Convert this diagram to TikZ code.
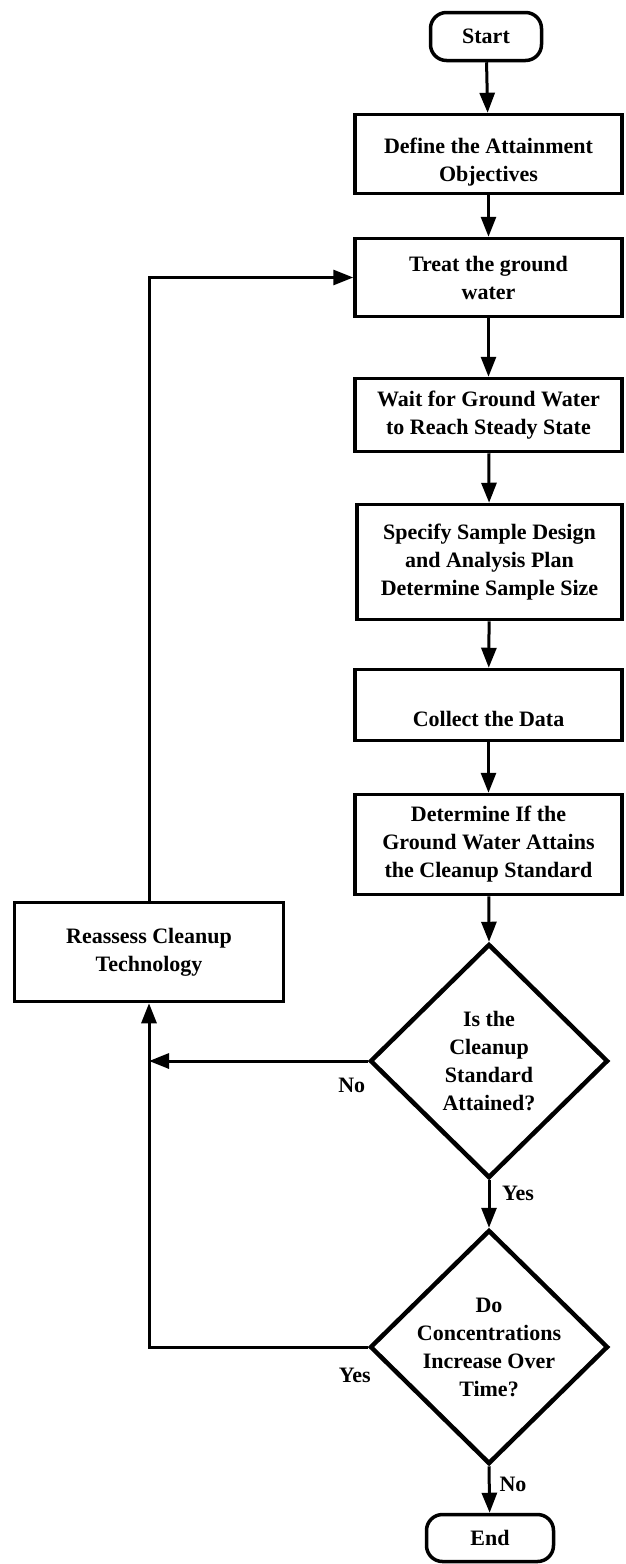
\documentclass[tikz,border=0pt]{standalone}
\usepackage{fontspec}
\setmainfont{Liberation Serif}
\usetikzlibrary{arrows.meta,shapes.geometric,calc}

\begin{document}
\begin{tikzpicture}[x=1pt,y=-1pt,
  every node/.style={font=\bfseries\fontsize{22}{28}\selectfont, align=center},
  box/.style={draw, line width=3.5pt, rectangle, inner sep=0pt},
  term/.style={draw, line width=3.5pt, rectangle, rounded corners=16pt, inner sep=0pt},
  decision/.style={draw, line width=4.5pt, diamond, inner sep=0pt,
                   minimum width=238pt, minimum height=234pt},
  txt/.style={inner sep=0pt},
  lbl/.style={inner sep=0pt},
  arr/.style={line width=3pt, -{Triangle[length=20pt,width=15pt]}},
  link/.style={line width=3pt}]

\useasboundingbox (0,0) rectangle (626,1564);

% main column
\node[term, minimum width=111pt, minimum height=48pt] (start) at (486,36.5) {Start};

\node[box, minimum width=267pt, minimum height=79pt] (define) at (488.5,154) {};
\node[txt] (define-t) at ($(define)+(0,8)$) {Define the Attainment\\Objectives};

\node[box, minimum width=267pt, minimum height=78pt] (treat) at (488.5,277.5) {Treat the ground\\water};

\node[box, minimum width=267pt, minimum height=73pt] (wait) at (488.5,415) {Wait for Ground Water\\to Reach Steady State};

\node[box, minimum width=265pt, minimum height=115pt] (specify) at (489.5,562) {Specify Sample Design\\and Analysis Plan\\Determine Sample Size};

\node[box, minimum width=267pt, minimum height=71pt] (collect) at (488.5,705) {};
\node[txt] (collect-t) at ($(collect)+(0,14)$) {Collect the Data};

\node[box, minimum width=267pt, minimum height=100pt] (determine) at (488.5,844.5) {Determine If the\\Ground Water Attains\\the Cleanup Standard};

\node[decision] (d1) at (489,1061) {};
\node[txt] (d1-t) at (d1) {Is the\\Cleanup\\Standard\\Attained?};

\node[decision] (d2) at (489,1347) {};
\node[txt] (d2-t) at (d2) {Do\\Concentrations\\Increase Over\\Time?};

\node[term, minimum width=127pt, minimum height=47pt] (end) at (490,1538) {End};

% side column
\node[box, minimum width=269pt, minimum height=99pt] (reassess) at (149,952) {Reassess Cleanup\\Technology};

% main flow
\draw[arr] (start) -- (define);
\draw[arr] (define) -- (treat);
\draw[arr] (treat) -- (wait);
\draw[arr] (wait) -- (specify);
\draw[arr] (specify) -- (collect);
\draw[arr] (collect) -- (determine);
\draw[arr] (determine) -- (d1.north);
\draw[arr] (d1.south) -- (d2.north);
\draw[arr] (d2.south) -- (end);

% loop back
\coordinate (j1) at (reassess.south |- d1.west);
\draw[arr] (d1.west) -- (j1);
\draw[arr] (d2.west) -| (reassess.south);
\draw[arr] (reassess.north) |- (treat.west);

% branch labels
\node[lbl] (no1)  at ($(d1.west)+(-16,24)$) {No};
\node[lbl] (yes1) at ($(d1.south)+(29,13)$) {Yes};
\node[lbl] (yes2) at ($(d2.west)+(-13,28)$) {Yes};
\node[lbl] (no2)  at ($(d2.south)+(24,18)$) {No};

\end{tikzpicture}
\end{document}
